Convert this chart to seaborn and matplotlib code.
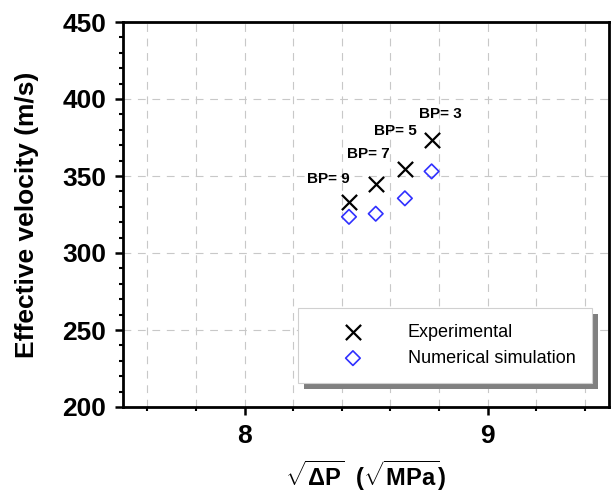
import matplotlib
matplotlib.use("Agg")
import matplotlib.pyplot as plt
from matplotlib.ticker import MultipleLocator
from matplotlib.patches import Rectangle
from matplotlib.transforms import IdentityTransform
import seaborn as sns
import pandas as pd

# sqrt of pressure drop (sqrt MPa) for each back-pressure case
sqrt_dp = [8.43, 8.54, 8.66, 8.77]
bp_labels = ["BP= 9", "BP= 7", "BP= 5", "BP= 3"]
v_experimental = [333.0, 345.0, 354.5, 373.5]
v_simulation = [323.5, 325.5, 335.5, 353.0]

# label anchor points (data coords) for the BP annotations
label_x = [8.345, 8.508, 8.62, 8.805]
label_y = [348.0, 364.5, 379.5, 390.0]

sns.set_style("white")
plt.rcParams["font.family"] = ["Liberation Sans", "DejaVu Sans"]
plt.rcParams["text.color"] = "black"
plt.rcParams["axes.labelcolor"] = "black"
plt.rcParams["xtick.color"] = "black"
plt.rcParams["ytick.color"] = "black"
plt.rcParams["mathtext.fontset"] = "custom"
plt.rcParams["mathtext.rm"] = "Liberation Sans"
plt.rcParams["mathtext.bf"] = "Liberation Sans:bold"
plt.rcParams["mathtext.it"] = "Liberation Sans:italic"

df = pd.DataFrame({
    "x": sqrt_dp * 2,
    "v": v_experimental + v_simulation,
    "series": ["Experimental"] * 4 + ["Numerical simulation"] * 4,
})

fig = plt.figure(figsize=(6.11, 5.0), dpi=100)
ax = fig.add_axes([123 / 611, 1 - 407 / 500, 486 / 611, 385 / 500])

sns.scatterplot(data=df[df.series == "Experimental"], x="x", y="v",
                marker="x", s=120, color="black", linewidth=1.6,
                label="Experimental", ax=ax, zorder=3)
sns.scatterplot(data=df[df.series == "Numerical simulation"], x="x", y="v",
                marker="D", s=55, facecolor="none", edgecolor="#3030ff",
                linewidth=1.2, label="Numerical simulation", ax=ax, zorder=3)

for tx, ty, t in zip(label_x, label_y, bp_labels):
    ax.text(tx, ty, t, ha="center", va="center", fontsize=11,
            fontweight="bold", color="black")

ax.set_xlim(7.5, 9.5)
ax.set_ylim(200, 450)
ax.xaxis.set_major_locator(MultipleLocator(1))
ax.xaxis.set_minor_locator(MultipleLocator(0.2))
ax.yaxis.set_major_locator(MultipleLocator(50))
ax.yaxis.set_minor_locator(MultipleLocator(10))

ax.grid(True, which="major", axis="y", color="#c8c8c8", lw=0.8,
        linestyle=(0, (7, 6)))
ax.grid(True, which="both", axis="x", color="#c8c8c8", lw=0.8,
        linestyle=(0, (7, 6)))
ax.set_axisbelow(True)

for sp in ax.spines.values():
    sp.set_linewidth(2.0)
    sp.set_color("black")

ax.tick_params(axis="both", which="major", direction="out", length=6,
               width=1.8, labelsize=19, pad=6, colors="black",
               bottom=True, left=True, top=False, right=False)
ax.tick_params(axis="both", which="minor", direction="out", length=3,
               width=1.5, bottom=True, left=True, top=False, right=False)
for lab in ax.get_xticklabels() + ax.get_yticklabels():
    lab.set_fontweight("bold")

ax.set_ylabel("Effective velocity (m/s)", fontsize=19, fontweight="bold",
              labelpad=17)
ax.set_xlabel(r"$\mathbf{\sqrt{\Delta P}}$  ($\mathbf{\sqrt{MPa}}$)",
              fontsize=17, fontweight="bold", labelpad=8)

leg = ax.legend(loc="lower right", bbox_to_anchor=(0.965, 0.062),
                borderaxespad=0, fontsize=13, frameon=True, fancybox=False,
                shadow=False, edgecolor="#d0d0d0", framealpha=1,
                borderpad=0.9, handlelength=4.3, handletextpad=0.9,
                labelspacing=0.5)
leg.get_frame().set_linewidth(0.8)
leg.set_zorder(6)

# offset drop shadow behind the legend box
fig.canvas.draw()
bb = leg.get_frame().get_window_extent()
shadow = Rectangle((bb.x0 + 6, bb.y0 - 6), bb.width, bb.height,
                   transform=IdentityTransform(), facecolor="#808080",
                   edgecolor="none", zorder=5.5, clip_on=False)
ax.add_artist(shadow)

fig.savefig("out.png", dpi=100)
